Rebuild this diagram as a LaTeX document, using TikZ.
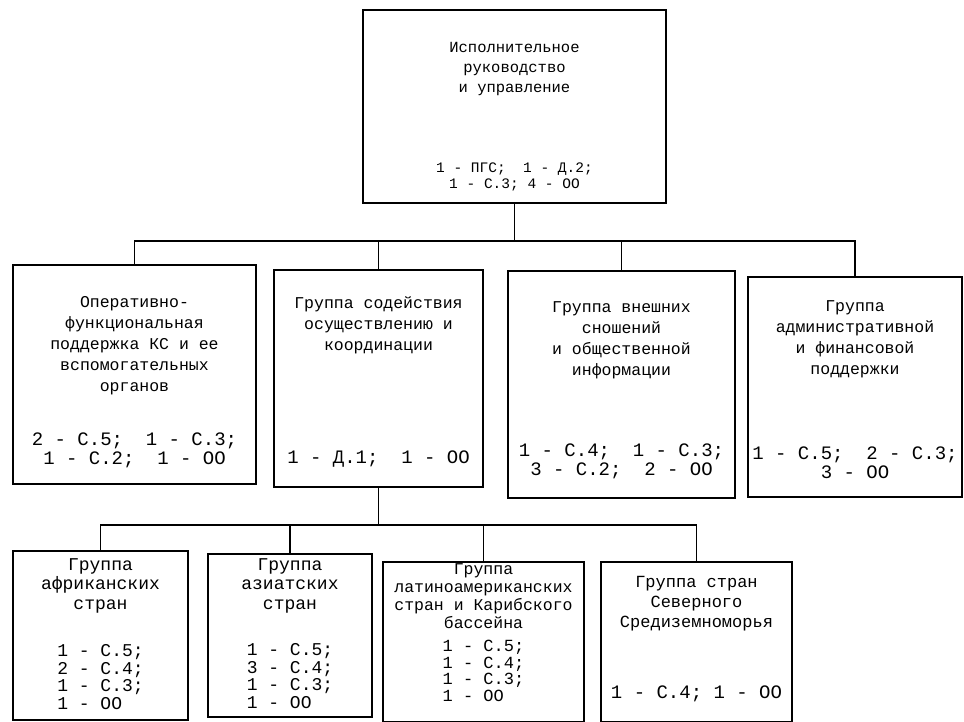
\documentclass[tikz,border=0pt]{standalone}
\usepackage{fontspec}
\setmainfont{Liberation Mono}
\usetikzlibrary{positioning}

\begin{document}
\begin{tikzpicture}[x=1pt, y=1pt,
    unit/.style={draw, line width=1.3pt, inner sep=0pt},
    title/.style={align=center, inner sep=0pt},
    staff/.style={align=center, inner sep=0pt},
    link/.style={line width=1.1pt}]

    \useasboundingbox (0,0) rectangle (964,722);

    % Executive management
    \node[unit, minimum width=303pt, minimum height=193pt] (exec) at (514.5,615.5) {};
    \node[title, font=\fontsize{15.5}{20}\selectfont, below=33pt of exec.north] (exec-title)
        {Исполнительное\\руководство\\и управление};
    \node[staff, font=\fontsize{14.5}{16}\selectfont, above=12pt of exec.south] (exec-staff)
        {1 - ПГС;~~1 - Д.2;\\1 - С.3; 4 - ОО};

    % Operational support
    \node[unit, minimum width=243pt, minimum height=219pt] (ops) at (134.5,347.5) {};
    \node[title, font=\fontsize{16.5}{21}\selectfont, below=32pt of ops.north] (ops-title)
        {Оперативно-\\функциональная\\поддержка КС и ее\\вспомогательных\\органов};
    \node[staff, font=\fontsize{19}{19}\selectfont, above=17pt of ops.south] (ops-staff)
        {2 - С.5;~~1 - С.3;\\1 - С.2;~~1 - ОО};

    % Implementation and coordination
    \node[unit, minimum width=209pt, minimum height=217pt] (impl) at (378.5,343.5) {};
    \node[title, font=\fontsize{16.5}{21}\selectfont, below=27pt of impl.north] (impl-title)
        {Группа содействия\\осуществлению и\\координации};
    \node[staff, font=\fontsize{19}{19}\selectfont, above=20pt of impl.south] (impl-staff)
        {1 - Д.1;~~1 - ОО};

    % External relations
    \node[unit, minimum width=227pt, minimum height=227pt] (ext) at (621.5,337.5) {};
    \node[title, font=\fontsize{16.5}{21}\selectfont, below=31pt of ext.north] (ext-title)
        {Группа внешних\\сношений\\и общественной\\информации};
    \node[staff, font=\fontsize{19}{19}\selectfont, above=20pt of ext.south] (ext-staff)
        {1 - С.4;~~1 - С.3;\\3 - С.2;~~2 - ОО};

    % Administration and finance
    \node[unit, minimum width=214pt, minimum height=220pt] (adm) at (855,335) {};
    \node[title, font=\fontsize{16.5}{21}\selectfont, below=24pt of adm.north] (adm-title)
        {Группа\\административной\\и финансовой\\поддержки};
    \node[staff, font=\fontsize{19}{19}\selectfont, above=19pt of adm.south] (adm-staff)
        {1 - С.5;~~2 - С.3;\\3 - ОО};

    % African countries
    \node[unit, minimum width=175pt, minimum height=169pt] (afr) at (100.5,86.5) {};
    \node[title, font=\fontsize{18}{19.5}\selectfont, below=8pt of afr.north] (afr-title)
        {Группа\\африканских\\стран};
    \node[staff, align=left, font=\fontsize{18}{17.5}\selectfont, above=11pt of afr.south] (afr-staff)
        {1 - С.5;\\2 - С.4;\\1 - С.3;\\1 - ОО};

    % Asian countries
    \node[unit, minimum width=164pt, minimum height=163pt] (asia) at (290,86.5) {};
    \node[title, font=\fontsize{18}{19.5}\selectfont, below=5pt of asia.north] (asia-title)
        {Группа\\азиатских\\стран};
    \node[staff, align=left, font=\fontsize{18}{17.5}\selectfont, above=9pt of asia.south] (asia-staff)
        {1 - С.5;\\3 - С.4;\\1 - С.3;\\1 - ОО};

    % Latin America and Caribbean
    \node[unit, minimum width=201pt, minimum height=160pt] (latam) at (483.5,80) {};
    \node[title, font=\fontsize{16.5}{18}\selectfont, below=2pt of latam.north] (latam-title)
        {Группа\\латиноамериканских\\стран и Карибского\\бассейна};
    \node[staff, align=left, font=\fontsize{17}{16.5}\selectfont, above=21pt of latam.south] (latam-staff)
        {1 - С.5;\\1 - С.4;\\1 - С.3;\\1 - ОО};

    % Northern Mediterranean
    \node[unit, minimum width=191pt, minimum height=160pt] (med) at (696.5,80) {};
    \node[title, font=\fontsize{17}{20}\selectfont, below=15pt of med.north] (med-title)
        {Группа стран\\Северного\\Средиземноморья};
    \node[staff, font=\fontsize{19}{19}\selectfont, above=21pt of med.south] (med-staff)
        {1 - С.4; 1 - ОО};

    % Upper bus
    \coordinate (bus1) at (0,481);
    \draw[link] (exec.south) -- (exec.south |- bus1);
    \draw[link] (ops.north) -- (ops.north |- bus1) -- (adm.north |- bus1) -- (adm.north);
    \foreach \g in {impl, ext} {
        \draw[link] (\g.north) -- (\g.north |- bus1);
    }

    % Lower bus
    \coordinate (bus2) at (0,197);
    \draw[link] (impl.south) -- (impl.south |- bus2);
    \draw[link] (afr.north) -- (afr.north |- bus2) -- (med.north |- bus2) -- (med.north);
    \foreach \g in {asia, latam} {
        \draw[link] (\g.north) -- (\g.north |- bus2);
    }

\end{tikzpicture}
\end{document}
